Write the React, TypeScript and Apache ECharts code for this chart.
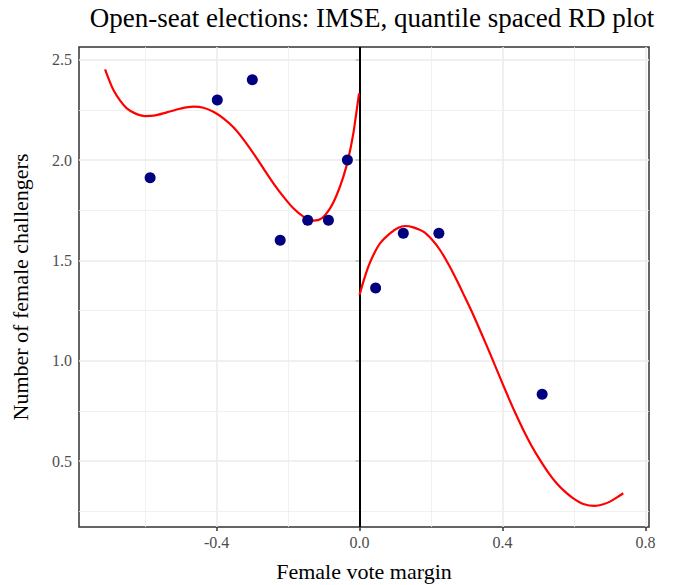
import React, { useEffect, useRef } from "react";
import * as echarts from "echarts";

const pointX = [-0.586, -0.398, -0.3, -0.222, -0.145, -0.087, -0.034, 0.045, 0.1225, 0.222, 0.511];
const pointY = [1.912, 2.299, 2.4, 1.6, 1.7, 1.7, 2.0, 1.363, 1.635, 1.635, 0.833];

const leftFitX = [-0.712, -0.7026, -0.6886, -0.6699, -0.6513, -0.628, -0.6, -0.5767, -0.5394, -0.5021, -0.4648, -0.4368, -0.4089, -0.3809, -0.3529, -0.325, -0.297, -0.269, -0.241, -0.2131, -0.1851, -0.1571, -0.1291, -0.1058, -0.0825, -0.0639, -0.0452, -0.0312, -0.0173, -0.0079, -0.0014];
const leftFitY = [2.4515, 2.4067, 2.3486, 2.2955, 2.2573, 2.2324, 2.2191, 2.2208, 2.2374, 2.2556, 2.2656, 2.2606, 2.2407, 2.2075, 2.1627, 2.1029, 2.0332, 1.9585, 1.8838, 1.8174, 1.7593, 1.7178, 1.6979, 1.7095, 1.7593, 1.8257, 1.917, 2.0083, 2.1328, 2.249, 2.332];

const rightFitX = [0.0, 0.0107, 0.0247, 0.0387, 0.0573, 0.0853, 0.1086, 0.1273, 0.1506, 0.1786, 0.2019, 0.2252, 0.2485, 0.2718, 0.2951, 0.3184, 0.3417, 0.365, 0.3883, 0.4117, 0.435, 0.4583, 0.4816, 0.5049, 0.5282, 0.5515, 0.5748, 0.5981, 0.6261, 0.6587, 0.682, 0.7007, 0.7194, 0.738];
const rightFitY = [1.3277, 1.3941, 1.4688, 1.5269, 1.585, 1.6348, 1.663, 1.6713, 1.6647, 1.6431, 1.6049, 1.5518, 1.4821, 1.4024, 1.3161, 1.2281, 1.1335, 1.0372, 0.9376, 0.838, 0.7434, 0.6554, 0.5757, 0.506, 0.4429, 0.3898, 0.3482, 0.315, 0.2869, 0.2769, 0.2852, 0.2984, 0.3184, 0.34];

const xTicks = [-0.4, 0, 0.4, 0.8];
const xMinor = [-0.6, -0.2, 0.2, 0.6];
const yTicks = [0.5, 1.0, 1.5, 2.0, 2.5];
const yMinor = [0.25, 0.75, 1.25, 1.75, 2.25];

const FONT = "Liberation Serif";

export default function App() {
  const ref = useRef<HTMLDivElement>(null);
  useEffect(() => {
    if (!ref.current) return;
    const chart = echarts.init(ref.current, null, { renderer: "svg" });
    const major = { color: "#ebebeb", width: 1.5, type: "solid" };
    const minor = { color: "#ededed", width: 0.8, type: "solid" };
    const gridLines = [
      ...xTicks.map((v) => ({ xAxis: v, lineStyle: major })),
      ...xMinor.map((v) => ({ xAxis: v, lineStyle: minor })),
      ...yTicks.map((v) => ({ yAxis: v, lineStyle: major })),
      ...yMinor.map((v) => ({ yAxis: v, lineStyle: minor })),
    ];
    chart.setOption({
      animation: false,
      backgroundColor: "#fff",
      textStyle: { fontFamily: FONT },
      grid: {
        left: 79,
        right: 27,
        top: 47,
        bottom: 58,
        containLabel: false,
        outerBoundsMode: "none",
        show: true,
        borderColor: "#333",
        borderWidth: 1.5,
        backgroundColor: "#fff",
      },
      graphic: [
        {
          type: "text",
          x: 372,
          y: 18,
          style: {
            text: "Open-seat elections: IMSE, quantile spaced RD plot",
            textAlign: "center",
            textVerticalAlign: "middle",
            fontFamily: FONT,
            fontSize: 27,
            fill: "#000",
          },
        },
      ],
      xAxis: {
        type: "value",
        min: -0.785,
        max: 0.81,
        name: "Female vote margin",
        nameLocation: "middle",
        nameGap: 33,
        nameTextStyle: { fontFamily: FONT, fontSize: 22, color: "#000" },
        axisLine: { show: false },
        splitLine: { show: false },
        axisTick: { show: true, customValues: xTicks, length: 4, lineStyle: { color: "#333", width: 1.5 } },
        axisLabel: {
          customValues: xTicks,
          formatter: (v: number) => v.toFixed(1),
          color: "#4d4d4d",
          fontFamily: FONT,
          fontSize: 16,
          margin: 7,
        },
      },
      yAxis: {
        type: "value",
        min: 0.172,
        max: 2.563,
        name: "Number of female challengers",
        nameLocation: "middle",
        nameGap: 48,
        nameTextStyle: { fontFamily: FONT, fontSize: 22, color: "#000" },
        axisLine: { show: false },
        splitLine: { show: false },
        axisTick: { show: true, customValues: yTicks, length: 4, lineStyle: { color: "#333", width: 1.5 } },
        axisLabel: {
          customValues: yTicks,
          formatter: (v: number) => v.toFixed(1),
          color: "#4d4d4d",
          fontFamily: FONT,
          fontSize: 16,
          margin: 7,
        },
      },
      series: [
        {
          type: "line",
          data: [],
          z: 1,
          silent: true,
          markLine: {
            z: 1,
            silent: true,
            symbol: "none",
            label: { show: false },
            data: gridLines,
          },
        },
        {
          type: "line",
          data: [],
          z: 2,
          silent: true,
          markLine: {
            z: 2,
            silent: true,
            symbol: "none",
            label: { show: false },
            lineStyle: { color: "#000", width: 2, type: "solid" },
            data: [{ xAxis: 0 }],
          },
        },
        {
          type: "line",
          smooth: 0.3,
          showSymbol: false,
          z: 3,
          lineStyle: { color: "#ff0000", width: 2.2 },
          data: leftFitX.map((x, i) => [x, leftFitY[i]]),
        },
        {
          type: "line",
          smooth: 0.3,
          showSymbol: false,
          z: 3,
          lineStyle: { color: "#ff0000", width: 2.2 },
          data: rightFitX.map((x, i) => [x, rightFitY[i]]),
        },
        {
          type: "scatter",
          symbolSize: 11,
          z: 4,
          itemStyle: { color: "#000080", opacity: 1 },
          data: pointX.map((x, i) => [x, pointY[i]]),
        },
      ],
    });
    return () => chart.dispose();
  }, []);
  return <div ref={ref} style={{ width: 676, height: 585, position: "absolute", left: 0, top: 0 }} />;
}
